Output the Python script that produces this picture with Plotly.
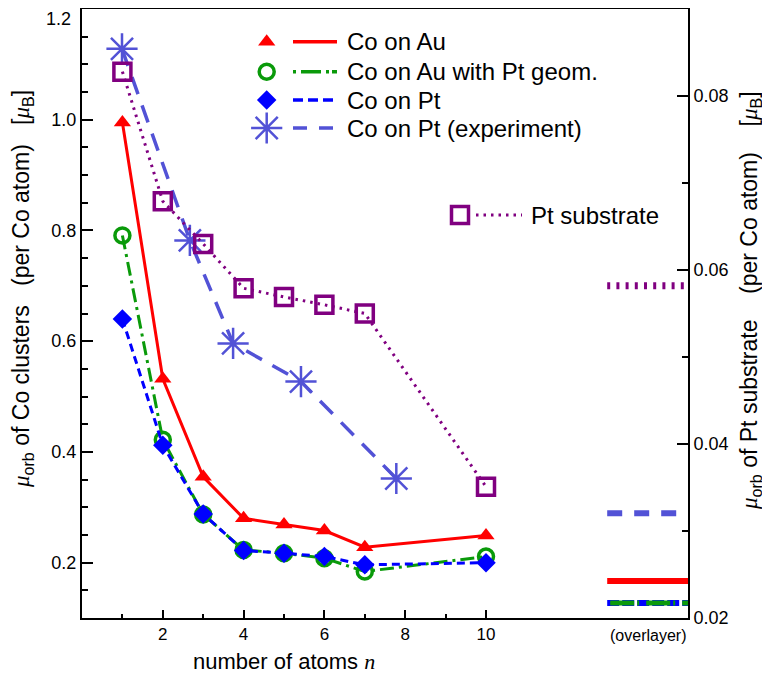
import plotly.graph_objects as go

# ---------------- data ----------------
n_calc = [1, 2, 3, 4, 5, 6, 7, 10]
co_on_au = [0.995, 0.532, 0.355, 0.280, 0.269, 0.258, 0.228, 0.249]
co_on_au_ptgeom = [0.791, 0.422, 0.287, 0.223, 0.217, 0.208, 0.184, 0.211]
co_on_pt = [0.640, 0.412, 0.288, 0.222, 0.217, 0.211, 0.196, 0.200]

n_exp = [0.99, 2.67, 3.74, 5.42, 7.78]
co_on_pt_exp = [1.128, 0.782, 0.596, 0.527, 0.352]

n_pt = [1, 2, 3, 4, 5, 6, 7, 10]
pt_substrate = [0.0828, 0.0679, 0.0630, 0.0579, 0.0569, 0.0560, 0.0550, 0.0351]

# overlayer values
ovl_co_on_au = 0.167
ovl_co_on_au_ptgeom = 0.127
ovl_co_on_pt = 0.127
ovl_co_on_pt_exp = 0.289
ovl_pt_substrate = 0.0582

x_ticks = [2, 4, 6, 8, 10]
x_minor = [1, 3, 5, 7, 9]
yl_ticks = [0.2, 0.4, 0.6, 0.8, 1.0, 1.2]
yr_ticks = [0.02, 0.04, 0.06, 0.08]

# ---------------- styles ----------------
RED = "#ff0000"
GREEN = "#0a9a0a"
BLUE = "#0000ff"
SLATE = "#5252d6"
PURPLE = "#800080"

FONT = "Liberation Sans, Arial, Helvetica, sans-serif"

DASH_GREEN = "14px,5px,3px,5px"
DASH_BLUE = "8px,5px"
DASH_SLATE = "18px,12px"
DASH_PURPLE = "2.5px,5px"

fig = go.Figure()

OV_X = [13, 15]

# overlayer lines
fig.add_trace(go.Scatter(x=OV_X, y=[ovl_co_on_pt_exp] * 2, mode="lines",
                         line=dict(color=SLATE, width=6, dash="15px,12px"), showlegend=False))
fig.add_trace(go.Scatter(x=OV_X, y=[ovl_co_on_au] * 2, mode="lines",
                         line=dict(color=RED, width=6), showlegend=False))
fig.add_trace(go.Scatter(x=OV_X, y=[ovl_co_on_pt] * 2, mode="lines",
                         line=dict(color=BLUE, width=6, dash="12px,3px"), showlegend=False))
fig.add_trace(go.Scatter(x=OV_X, y=[ovl_co_on_au_ptgeom] * 2, mode="lines",
                         line=dict(color=GREEN, width=5, dash="0px,3px,24px,3px,2px,4px"), showlegend=False))
fig.add_trace(go.Scatter(x=OV_X, y=[ovl_pt_substrate] * 2, mode="lines", yaxis="y2",
                         line=dict(color=PURPLE, width=7, dash="3px,6.2px"), showlegend=False))

# Pt substrate (right axis)
fig.add_trace(go.Scatter(x=n_pt, y=pt_substrate, mode="lines+markers", yaxis="y2",
                         line=dict(color=PURPLE, width=3, dash=DASH_PURPLE),
                         marker=dict(symbol="square-open", size=17, color=PURPLE,
                                     line=dict(width=3.5, color=PURPLE)),
                         showlegend=False))

# experiment
fig.add_trace(go.Scatter(x=n_exp, y=co_on_pt_exp, mode="lines+markers",
                         line=dict(color=SLATE, width=3.5, dash=DASH_SLATE),
                         marker=dict(symbol="asterisk-open", size=26, color=SLATE,
                                     line=dict(width=2.5, color=SLATE)),
                         showlegend=False))

fig.add_trace(go.Scatter(x=n_calc, y=co_on_au, mode="lines+markers",
                         line=dict(color=RED, width=3),
                         marker=dict(symbol="triangle-up", size=15, color=RED),
                         showlegend=False))
fig.add_trace(go.Scatter(x=n_calc, y=co_on_au_ptgeom, mode="lines+markers",
                         line=dict(color=GREEN, width=3, dash=DASH_GREEN),
                         marker=dict(symbol="circle-open", size=15, color=GREEN,
                                     line=dict(width=3.5, color=GREEN)),
                         showlegend=False))
fig.add_trace(go.Scatter(x=n_calc, y=co_on_pt, mode="lines+markers",
                         line=dict(color=BLUE, width=3, dash=DASH_BLUE),
                         marker=dict(symbol="diamond", size=15, color=BLUE),
                         showlegend=False))

# ---------------- layout geometry ----------------
# page body adds an 8px offset; figure is shrunk so the plot box lands
# at screen x 82..688, y 9..618
OFF = 8
W, H = 770 - OFF, 679 - OFF
FX0, FX1, FY0, FY1 = 82, 688, 9, 618
L = FX0 - OFF
T = FY0 - OFF
R = W - (FX1 - OFF)
B = H - (FY1 - OFF)
PW, PH = FX1 - FX0, FY1 - FY0


def px(xs):
    return (xs - FX0) / PW


def py(ys):
    return (FY1 - ys) / PH


legend_rows = [
    ("Co on Au", RED, dict(symbol="triangle-up", size=15, color=RED), "solid", 41.7),
    ("Co on Au with Pt geom.", GREEN,
     dict(symbol="circle-open", size=15, color=GREEN, line=dict(width=3.5, color=GREEN)),
     "3px,5px,20px,5px,3px", 71.7),
    ("Co on Pt", BLUE, dict(symbol="diamond", size=15, color=BLUE), "10px,5px", 100),
    ("Co on Pt (experiment)", SLATE,
     dict(symbol="asterisk-open", size=26, color=SLATE, line=dict(width=2.5, color=SLATE)),
     "14px,12px", 128),
]

for name, col, mk, dash, yy in legend_rows:
    fig.add_trace(go.Scatter(x=[px(266.7)], y=[py(yy)], mode="markers", marker=mk,
                             xaxis="x3", yaxis="y3", showlegend=False, hoverinfo="skip"))
    fig.add_trace(go.Scatter(x=[px(293), px(337)], y=[py(yy)] * 2, mode="lines",
                             line=dict(color=col, width=3.5, dash=dash),
                             xaxis="x3", yaxis="y3", showlegend=False, hoverinfo="skip"))
    fig.add_annotation(x=px(345), y=py(yy), xref="x3", yref="y3", text=name,
                       showarrow=False, xanchor="left", yanchor="middle",
                       font=dict(family=FONT, size=24, color="black"))

# Pt substrate legend
fig.add_trace(go.Scatter(x=[px(460)], y=[py(215)], mode="markers",
                         marker=dict(symbol="square-open", size=17, color=PURPLE,
                                     line=dict(width=3.5, color=PURPLE)),
                         xaxis="x3", yaxis="y3", showlegend=False, hoverinfo="skip"))
fig.add_trace(go.Scatter(x=[px(476), px(522)], y=[py(215)] * 2, mode="lines",
                         line=dict(color=PURPLE, width=3, dash=DASH_PURPLE),
                         xaxis="x3", yaxis="y3", showlegend=False, hoverinfo="skip"))
fig.add_annotation(x=px(529), y=py(215), xref="x3", yref="y3", text="Pt substrate",
                   showarrow=False, xanchor="left", yanchor="middle",
                   font=dict(family=FONT, size=24, color="black"))

# axis titles
NB = "\u00a0"
MU = "<span style='font-family:Liberation Serif'><i>μ</i></span>"
fig.add_annotation(x=px(22), y=py(289), xref="paper", yref="paper", textangle=-90,
                   text=(MU + "<sub>orb</sub> of Co clusters" + NB * 3 + "(per Co atom)" + NB * 3 +
                         "[" + MU + "<sub>B</sub>]"),
                   showarrow=False, xanchor="center", yanchor="middle",
                   font=dict(family=FONT, size=23, color="black"))
fig.add_annotation(x=px(750), y=py(301), xref="paper", yref="paper", textangle=-90,
                   text=(MU + "<sub>orb</sub> of Pt substrate" + NB * 4 + "(per Co atom)" + NB * 4 +
                         "[" + MU + "<sub>B</sub>]"),
                   showarrow=False, xanchor="center", yanchor="middle",
                   font=dict(family=FONT, size=23, color="black"))
fig.add_annotation(x=px(284), y=py(661), xref="paper", yref="paper",
                   text="number of atoms <span style='font-family:Liberation Serif'><i>n</i></span>",
                   showarrow=False, xanchor="center", yanchor="middle",
                   font=dict(family=FONT, size=22, color="black"))
fig.add_annotation(x=14.0, y=py(635), xref="x", yref="paper", text="(overlayer)",
                   showarrow=False, xanchor="center", yanchor="middle",
                   font=dict(family=FONT, size=16, color="black"))

# top tick label (kept inside the page, slightly below its tick as in the reference)
top_tick = yl_ticks[-1]
fig.add_annotation(x=px(73), y=top_tick, xref="paper", yref="y", text="%.1f" % top_tick,
                   showarrow=False, xanchor="right", yanchor="top", yshift=2,
                   font=dict(family=FONT, size=18, color="black"))

fig.update_layout(
    width=W, height=H,
    margin=dict(l=L, r=R, t=T, b=B, pad=0, autoexpand=False),
    paper_bgcolor="white", plot_bgcolor="white",
    font=dict(family=FONT, size=17, color="black"),
    showlegend=False,
    xaxis=dict(range=[0, 15], tickmode="array", tickvals=x_ticks, automargin=False,
               ticks="inside", ticklen=8, tickwidth=1.5, tickcolor="black",
               minor=dict(tickmode="array", tickvals=x_minor, ticks="inside",
                          ticklen=4, tickwidth=1.5, tickcolor="black"),
               showline=True, linecolor="black", linewidth=2, mirror=True,
               showgrid=False, zeroline=False, tickfont=dict(size=17)),
    yaxis=dict(range=[0.1, 1.2], tickmode="array", tickvals=yl_ticks, automargin=False,
               ticktext=["%.1f" % v for v in yl_ticks[:-1]] + [""],
               ticks="inside", ticklen=11, tickwidth=1.5, tickcolor="black",
               minor=dict(dtick=0.05, tick0=0.1, ticks="inside", ticklen=6,
                          tickwidth=1.5, tickcolor="black"),
               showline=True, linecolor="black", linewidth=2, mirror=False,
               showgrid=False, zeroline=False, tickfont=dict(size=18)),
    yaxis2=dict(range=[0.02, 0.09], overlaying="y", side="right", tickmode="array",
                tickvals=yr_ticks, ticktext=["%.2f" % v for v in yr_ticks], automargin=False,
                ticklabeloverflow="allow",
                ticks="inside", ticklen=11, tickwidth=1.5, tickcolor="black",
                minor=dict(dtick=0.01, tick0=0.02, ticks="inside", ticklen=6,
                           tickwidth=1.5, tickcolor="black"),
                showline=True, linecolor="black", linewidth=2,
                showgrid=False, zeroline=False, tickfont=dict(size=18)),
    xaxis3=dict(range=[0, 1], overlaying="x", visible=False, fixedrange=True),
    yaxis3=dict(range=[0, 1], overlaying="y", visible=False, fixedrange=True),
)

fig.write_html("out.html")
